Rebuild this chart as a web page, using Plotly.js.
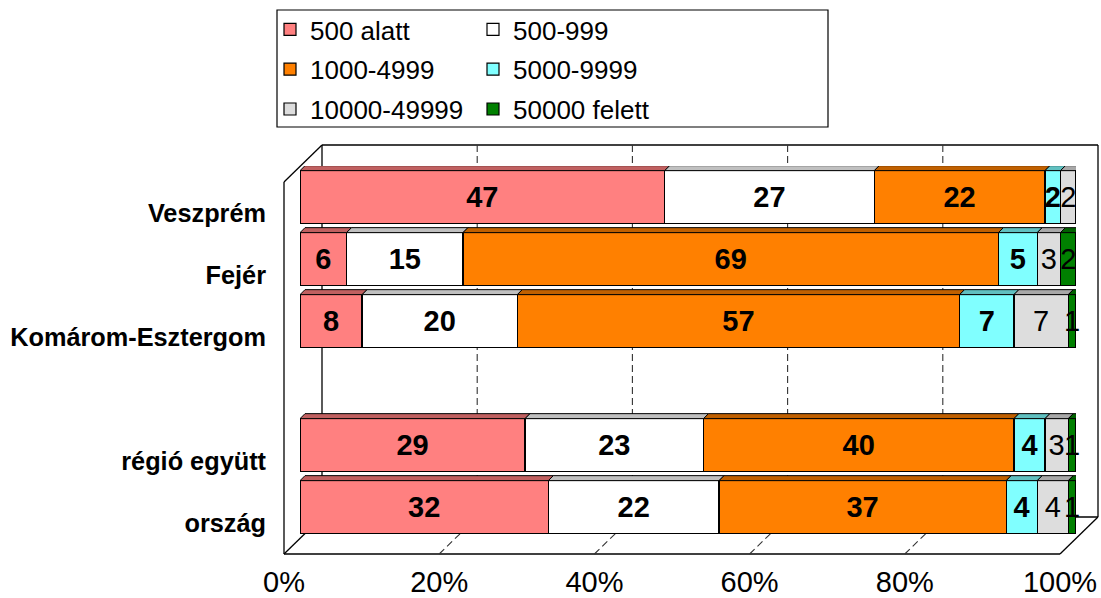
<!DOCTYPE html>
<html><head><meta charset="utf-8">
<script src="https://cdn.plot.ly/plotly-3.0.1.min.js"></script>
<style>html,body{margin:0;padding:0;background:#fff}#chart{width:1101px;height:598px}</style>
</head><body><div id="chart"></div>
<script>
// ---- data ----
const categories = ['Veszprém', 'Fejér', 'Komárom-Esztergom', 'régió együtt', 'ország'];
const axisCategories = ['Veszprém', 'Fejér', 'Komárom-Esztergom', ' ', 'régió együtt', 'ország'];
const seriesNames = ['500 alatt', '500-999', '1000-4999', '5000-9999', '10000-49999', '50000 felett'];
const s500alatt    = [47, 6, 8, 29, 32];
const s500_999     = [27, 15, 20, 23, 22];
const s1000_4999   = [22, 69, 57, 40, 37];
const s5000_9999   = [2, 5, 7, 4, 4];
const s10000_49999 = [2, 3, 7, 3, 4];
const s50000felett = [0, 2, 1, 1, 1];
const xTickVals = [0, 20, 40, 60, 80, 100];
const xTickText = ['0%', '20%', '40%', '60%', '80%', '100%'];

// ---- styles ----
const seriesValues = [s500alatt, s500_999, s1000_4999, s5000_9999, s10000_49999, s50000felett];
const frontColors = ['#FF8080', '#FFFFFF', '#FF8000', '#80FFFF', '#DDDDDD', '#008000'];
const topColors   = ['#C06060', '#C0C0C0', '#C06000', '#60C0C0', '#A8A8A8', '#006000'];
const sideColors  = ['#A04848', '#A0A0A0', '#A04800', '#48A0A0', '#808080', '#004800'];
const labelWeights = ['bold', 'bold', 'bold', 'bold', 'normal', 'normal'];
const legendOf = ['legend', 'legend2', 'legend', 'legend2', 'legend', 'legend2'];
const FONT = 'Liberation Sans, Arial, sans-serif';

// plot-area geometry (pixels)
const W = 1101, H = 598;
const ML = 300, MR = 25, MT = 166, MB = 60;
const PW = W - ML - MR, PH = H - MT - MB;
const px = x => (x - ML) / PW;
const py = y => (H - MB - y) / PH;
const FRONT = {dx: -16, dy: 16}, BACK = {dx: 22, dy: -21};
const BAR_W = 0.85;
const DEPTH_X = 5 / (PW / 100), DEPTH_Y = 5 / (PH / 6);

const traces = seriesNames.map((name, s) => ({
  type: 'bar', orientation: 'h', name: name,
  y: categories, x: seriesValues[s],
  text: seriesValues[s].map(v => v ? String(v) : ''),
  textposition: 'inside', insidetextanchor: 'middle', textangle: 0,
  constraintext: 'none', cliponaxis: false,
  textfont: {family: FONT, size: 29, color: '#000', weight: labelWeights[s]},
  marker: {color: frontColors[s], line: {color: '#000', width: 1.2}},
  legend: legendOf[s], legendgroup: 'g' + s, hoverinfo: 'skip'
}));

const shapes = [];
// 3D tops and right sides of the bars
categories.forEach((cat, i) => {
  const yi = axisCategories.indexOf(cat);
  const yt = yi - BAR_W / 2, yb = yi + BAR_W / 2;
  let start = 0, lastS = -1, lastEnd = 0;
  seriesValues.forEach((vals, s) => {
    const v = vals[i];
    if (!v) return;
    const end = start + v;
    shapes.push({type: 'path', xref: 'x', yref: 'y', layer: 'above',
      path: `M${start},${yt}L${end},${yt}L${end + DEPTH_X},${yt - DEPTH_Y}L${start + DEPTH_X},${yt - DEPTH_Y}Z`,
      fillcolor: topColors[s], line: {color: '#000', width: 1}});
    lastS = s; lastEnd = end; start = end;
  });
  shapes.push({type: 'path', xref: 'x', yref: 'y', layer: 'above',
    path: `M${lastEnd},${yt}L${lastEnd + DEPTH_X},${yt - DEPTH_Y}L${lastEnd + DEPTH_X},${yb - DEPTH_Y}L${lastEnd},${yb}Z`,
    fillcolor: sideColors[lastS], line: {color: '#000', width: 1}});
});

// walls frame
const fL = ML + FRONT.dx, fR = ML + PW + FRONT.dx, fT = MT + FRONT.dy, fB = H - MB + FRONT.dy;
const bL = ML + BACK.dx, bR = ML + PW + BACK.dx, bT = MT + BACK.dy, bB = H - MB + BACK.dy;
const seg = (x0, y0, x1, y1) => shapes.push({type: 'line', xref: 'paper', yref: 'paper', layer: 'below',
  x0: px(x0), y0: py(y0), x1: px(x1), y1: py(y1), line: {color: '#000', width: 1.3}});
seg(fL, fT, fL, fB);          // left wall front edge
seg(fL, fT, bL, bT);          // left wall top diagonal
seg(bL, bT, bR, bT);          // back wall top
seg(bR, bT, bR, bB);          // back wall right
seg(bL, bT, bL, bB);          // back-left corner
seg(bL, bB, bR, bB);          // back wall bottom
seg(fL, fB, fR, fB);          // floor front
seg(fL, fB, bL, bB);          // floor left diagonal
seg(fR, fB, bR, bB);          // floor right diagonal

// dashed gridlines (back wall + floor), anchored to tick values
xTickVals.slice(1, -1).forEach(v => {
  shapes.push({type: 'line', xref: 'x', xsizemode: 'pixel', xanchor: v, x0: BACK.dx, x1: BACK.dx,
    yref: 'paper', y0: py(bT), y1: py(bB), layer: 'below', line: {color: '#333', width: 1.1, dash: '7px,4px'}});
  shapes.push({type: 'line', xref: 'x', xsizemode: 'pixel', xanchor: v, x0: FRONT.dx, x1: BACK.dx,
    yref: 'paper', y0: py(fB), y1: py(bB), layer: 'below', line: {color: '#333', width: 1.1, dash: '7px,4px'}});
});

// legend frame
shapes.push({type: 'rect', xref: 'paper', yref: 'paper', layer: 'above',
  x0: px(277), y0: py(10), x1: px(828), y1: py(127), line: {color: '#000', width: 1.2}, fillcolor: 'rgba(0,0,0,0)'});

const legendCommon = {orientation: 'v', xanchor: 'left', yanchor: 'top', bgcolor: 'rgba(0,0,0,0)',
  borderwidth: 0, font: {family: FONT, size: 26, color: '#000'}, itemwidth: 30, tracegroupgap: 3,
  traceorder: 'grouped', itemclick: false, itemdoubleclick: false};

const layout = {
  width: W, height: H,
  margin: {l: ML, r: MR, t: MT, b: MB, autoexpand: false},
  paper_bgcolor: '#fff', plot_bgcolor: 'rgba(0,0,0,0)',
  barmode: 'stack', bargap: 1 - BAR_W,
  font: {family: FONT, color: '#000'},
  xaxis: {range: [0, 100], tickvals: xTickVals, ticktext: xTickText, ticks: '',
    showgrid: false, zeroline: false, showline: false, fixedrange: true,
    tickfont: {family: FONT, size: 29, color: '#000'}, ticklabelshift: FRONT.dx, ticklabelstandoff: 24},
  yaxis: {type: 'category', categoryorder: 'array', categoryarray: axisCategories, range: [5.5, -0.5],
    ticks: '', showgrid: false, zeroline: false, showline: false, fixedrange: true,
    tickfont: {family: FONT, size: 25.3, color: '#000', weight: 'bold'},
    ticklabelshift: -FRONT.dy, ticklabelstandoff: 33},
  legend: Object.assign({x: px(270), y: py(6)}, legendCommon),
  legend2: Object.assign({x: px(473), y: py(6)}, legendCommon),
  shapes: shapes,
  showlegend: true
};

Plotly.newPlot('chart', traces, layout, {displayModeBar: false, staticPlot: true});
</script>
</body></html>
